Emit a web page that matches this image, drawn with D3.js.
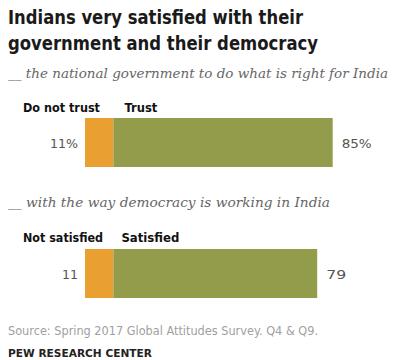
<!DOCTYPE html>
<html><head><meta charset="utf-8">
<script src="https://cdn.jsdelivr.net/npm/d3@7"></script>
<style>body{margin:0;background:#fff}</style>
</head><body>
<svg id="c" width="400" height="360"></svg>
<script>
const questions = ["__ the national government to do what is right for India", "__ with the way democracy is working in India"];
const negLabels = ["Do not trust", "Not satisfied"];
const posLabels = ["Trust", "Satisfied"];
const negValues = [11, 11];
const posValues = [85, 79];
const negText = ["11%", "11"];
const posText = ["85%", "79"];

const svg = d3.select("#c");
svg.append("rect").attr("width",400).attr("height",360).attr("fill","#fff");
const x = d3.scaleLinear().domain([0,100]).range([85,343]);
const sans = "'DejaVu Sans',sans-serif";

function fit(sel, w){ sel.attr("textLength",w).attr("lengthAdjust","spacingAndGlyphs"); return sel; }

const title = ["Indians very satisfied with their","government and their democracy"];
const titleW = [295, 310];
title.forEach((t,i)=>{
  fit(svg.append("text").attr("x",8).attr("y",24+i*26)
    .attr("font-family",sans).attr("font-weight","bold").attr("font-size",20)
    .attr("fill","#1a1a1a").text(t), titleW[i]);
});

const groupTop = [118, 249];
const qY = [78, 207];
const qW = [380, 322];
const labY = [112, 242];
const negW = [77, 80];
const posW = [33, 58];
const negTW = [28, 16];
const posTW = [30, 20];
questions.forEach((q,i)=>{
  fit(svg.append("text").attr("x",8).attr("y",qY[i])
    .attr("font-family","'DejaVu Serif',serif").attr("font-style","italic")
    .attr("font-size",13).attr("fill","#666").text(q), qW[i]);
  fit(svg.append("text").attr("x",23).attr("y",labY[i])
    .attr("font-family",sans).attr("font-weight","bold").attr("font-size",13).attr("fill","#111").text(negLabels[i]), negW[i]);
  fit(svg.append("text").attr("x",x(negValues[i])+(i?8:11)).attr("y",labY[i])
    .attr("font-family",sans).attr("font-weight","bold").attr("font-size",13).attr("fill","#111").text(posLabels[i]), posW[i]);
  svg.append("rect").attr("x",x(0)).attr("y",groupTop[i]).attr("width",x(negValues[i])-x(0)).attr("height",49).attr("fill","#E9A030");
  svg.append("rect").attr("x",x(negValues[i])).attr("y",groupTop[i]).attr("width",x(negValues[i]+posValues[i])-x(negValues[i])).attr("height",49).attr("fill","#939C4B");
  fit(svg.append("text").attr("x",x(0)-7).attr("y",groupTop[i]+30).attr("text-anchor","end")
    .attr("font-family",sans).attr("font-size",13).attr("fill","#555").text(negText[i]), negTW[i]);
  fit(svg.append("text").attr("x",x(negValues[i]+posValues[i])+9).attr("y",groupTop[i]+30)
    .attr("font-family",sans).attr("font-size",13).attr("fill","#555").text(posText[i]), posTW[i]);
});
fit(svg.append("text").attr("x",8).attr("y",335)
  .attr("font-family",sans).attr("font-size",13).attr("fill","#a0a0a0")
  .text("Source: Spring 2017 Global Attitudes Survey. Q4 & Q9."), 310);
fit(svg.append("text").attr("x",8).attr("y",357)
  .attr("font-family",sans).attr("font-weight","bold").attr("font-size",11).attr("fill","#222")
  .text("PEW RESEARCH CENTER"), 144);
</script>
</body></html>
